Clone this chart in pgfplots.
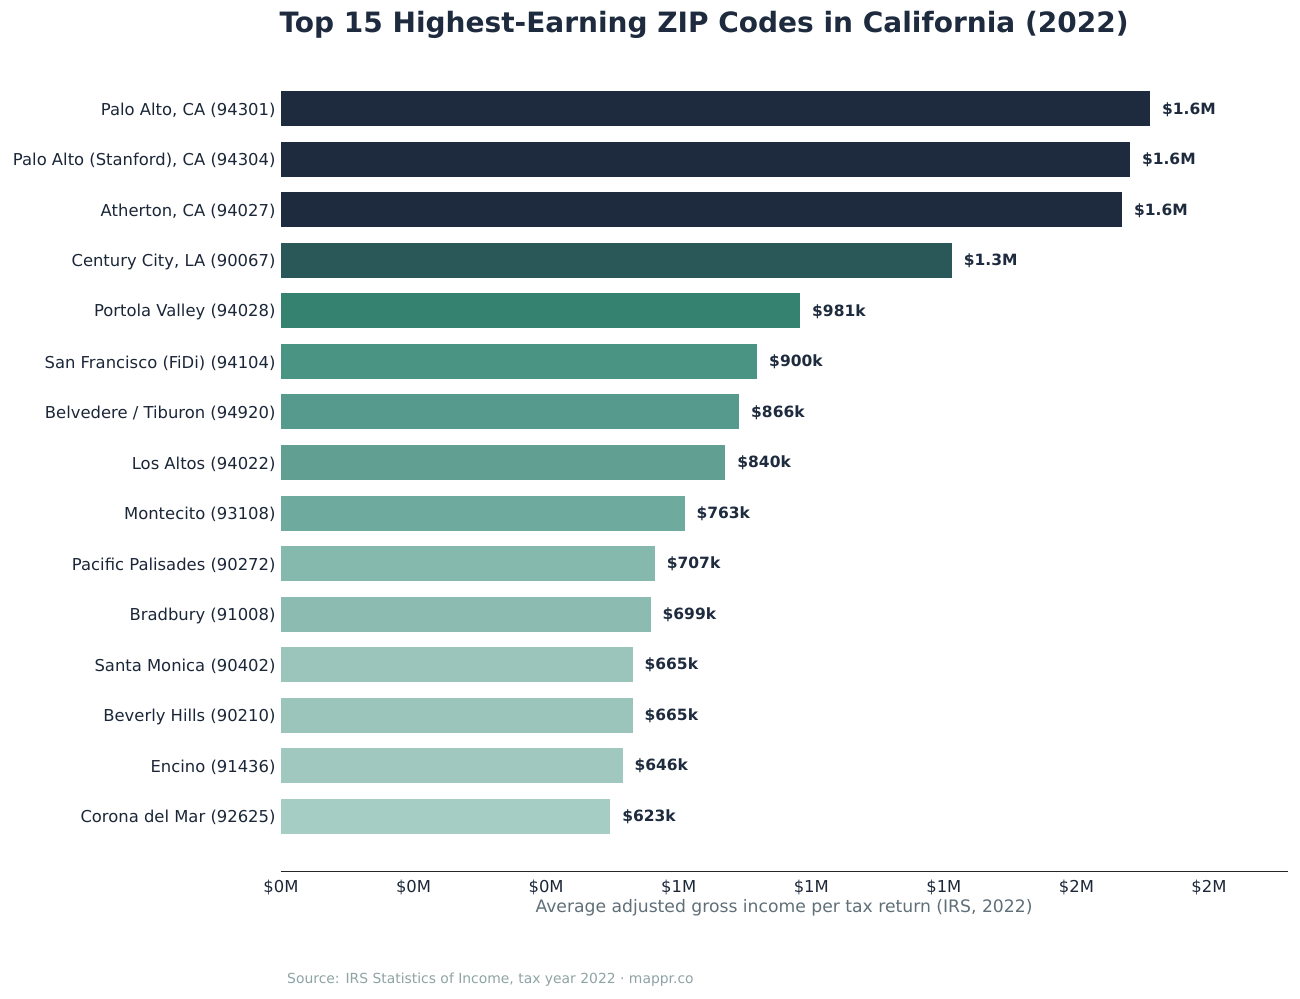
\documentclass[border=0pt]{standalone}
\usepackage{fontspec}
\setmainfont{DejaVu Sans}
\usepackage{pgfplots}
\pgfplotsset{compat=1.18}
\definecolor{navy}{HTML}{1E2B3E}
\definecolor{c4}{HTML}{2A5757}
\definecolor{c5}{HTML}{368270}
\definecolor{c6}{HTML}{4A9484}
\definecolor{c7}{HTML}{559A8C}
\definecolor{c8}{HTML}{609F92}
\definecolor{c9}{HTML}{6EAB9E}
\definecolor{c10}{HTML}{85B9AD}
\definecolor{c11}{HTML}{8CBCB1}
\definecolor{c12}{HTML}{9BC5BB}
\definecolor{c13}{HTML}{9BC5BB}
\definecolor{c14}{HTML}{A0C8BE}
\definecolor{c15}{HTML}{A6CDC3}
\definecolor{xlab}{HTML}{5F6F78}
\definecolor{src}{HTML}{8FA3A3}
\begin{document}
\begin{tikzpicture}
\path[use as bounding box] (0,0) rectangle (1300pt,998pt);
\begin{axis}[
  at={(281pt,127pt)}, anchor=south west,
  scale only axis, width=1007pt, height=817pt,
  xbar, bar shift=0pt, bar width=35pt,
  xmin=0, xmax=1.899,
  ymin=-1.085, ymax=15.085, y dir=reverse,
  axis x line*=bottom, axis y line*=left,
  y axis line style={draw=none},
  x axis line style={draw=black!85, line width=0.9pt, -},
  major tick length=0pt,
  xtick={0,0.25,0.5,0.75,1,1.25,1.5,1.75},
  xticklabels={\$0M,\$0M,\$0M,\$1M,\$1M,\$1M,\$2M,\$2M},
  ytick={0,1,2,3,4,5,6,7,8,9,10,11,12,13,14},
  yticklabels={{Palo Alto, CA (94301)},{Palo Alto (Stanford), CA (94304)},{Atherton, CA (94027)},{Century City, LA (90067)},{Portola Valley (94028)},{San Francisco (FiDi) (94104)},{Belvedere / Tiburon (94920)},{Los Altos (94022)},{Montecito (93108)},{Pacific Palisades (90272)},{Bradbury (91008)},{Santa Monica (90402)},{Beverly Hills (90210)},{Encino (91436)},{Corona del Mar (92625)}},
  /pgf/number format/assume math mode=true,
  ticklabel style={font=\fontsize{16.4}{19.5}\selectfont, text=navy!90!black},
  yticklabel style={xshift=-2pt, yshift=-1.5pt},
  xticklabel style={yshift=-5pt},
  every node near coord/.append style={anchor=west, xshift=8.5pt, yshift=-0.5pt, font=\fontsize{15.5}{18}\selectfont\bfseries, text=navy},
  clip=false,
]
\addplot[draw=none, fill=navy, nodes near coords={\$1.6M}] coordinates {(1.639,0)};
\addplot[draw=none, fill=navy, nodes near coords={\$1.6M}] coordinates {(1.601,1)};
\addplot[draw=none, fill=navy, nodes near coords={\$1.6M}] coordinates {(1.586,2)};
\addplot[draw=none, fill=c4, nodes near coords={\$1.3M}] coordinates {(1.265,3)};
\addplot[draw=none, fill=c5, nodes near coords={\$981k}] coordinates {(0.979,4)};
\addplot[draw=none, fill=c6, nodes near coords={\$900k}] coordinates {(0.898,5)};
\addplot[draw=none, fill=c7, nodes near coords={\$866k}] coordinates {(0.864,6)};
\addplot[draw=none, fill=c8, nodes near coords={\$840k}] coordinates {(0.838,7)};
\addplot[draw=none, fill=c9, nodes near coords={\$763k}] coordinates {(0.761,8)};
\addplot[draw=none, fill=c10, nodes near coords={\$707k}] coordinates {(0.705,9)};
\addplot[draw=none, fill=c11, nodes near coords={\$699k}] coordinates {(0.697,10)};
\addplot[draw=none, fill=c12, nodes near coords={\$665k}] coordinates {(0.663,11)};
\addplot[draw=none, fill=c13, nodes near coords={\$665k}] coordinates {(0.663,12)};
\addplot[draw=none, fill=c14, nodes near coords={\$646k}] coordinates {(0.644,13)};
\addplot[draw=none, fill=c15, nodes near coords={\$623k}] coordinates {(0.621,14)};
\end{axis}
\node[anchor=base, text=navy, font=\fontsize{28}{32}\selectfont\bfseries] at (704pt,965pt) {Top 15 Highest-Earning ZIP Codes in California (2022)};
\node[anchor=base, text=xlab, font=\fontsize{17.2}{20}\selectfont] at (784pt,85pt) {Average adjusted gross income per tax return (IRS, 2022)};
\node[anchor=base west, inner sep=0pt, text=src, font=\fontsize{13.9}{16}\selectfont] at (287pt,15pt) {Source: IRS Statistics of Income, tax year 2022 · mappr.co};
\end{tikzpicture}
\end{document}
